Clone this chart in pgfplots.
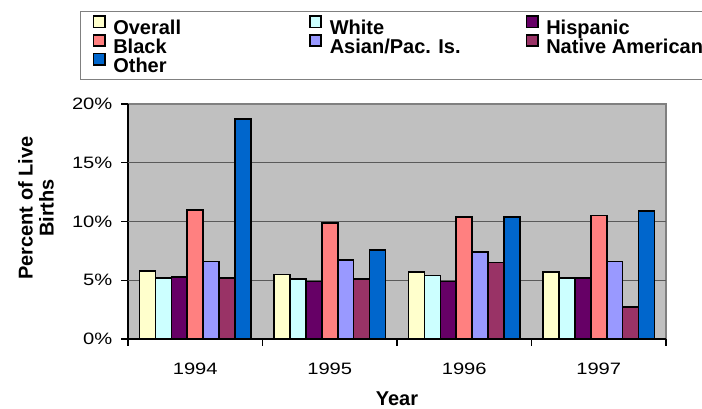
\documentclass[border=0pt]{standalone}
\usepackage{pgfplots}
\usepackage{pgfplotstable}
\pgfplotsset{compat=1.18}
\usepackage{fontspec}
\setmainfont{Liberation Sans}
\newfontfamily\tickfont{Liberation Sans}[FakeStretch=1.22]
\definecolor{cOverall}{HTML}{FFFFCC}
\definecolor{cWhite}{HTML}{CCFFFF}
\definecolor{cHisp}{HTML}{660066}
\definecolor{cBlack}{HTML}{FF8080}
\definecolor{cAsian}{HTML}{9999FF}
\definecolor{cNat}{HTML}{993366}
\definecolor{cOther}{HTML}{0066CC}
\definecolor{plotbg}{HTML}{C0C0C0}
\definecolor{gridc}{HTML}{5A5A5A}
\definecolor{borderc}{HTML}{808080}
\pgfplotstableread{
x Overall White Hispanic Black Asian Native Other
0 5.8 5.2 5.3 11.0 6.6 5.2 18.7
1 5.5 5.1 4.9 9.9 6.7 5.1 7.6
2 5.7 5.4 4.9 10.4 7.4 6.5 10.4
3 5.7 5.2 5.2 10.5 6.6 2.7 10.9
}\data
\pgfplotsset{
  fb/.style 2 args={fill=#1, draw=none, bar shift=#2},
  ob/.style={fill=none, draw=black, line width=1.7pt, bar shift=#1, forget plot},
}
\begin{document}
\begin{tikzpicture}
\begin{axis}[
  scale only axis, width=538pt, height=235pt,
  ybar=0pt, bar width=0.1183,
  legend image code/.code={\fill[#1] (0.8pt,0.8pt) rectangle (12.2pt,12.2pt);
    \draw[black, line width=1.6pt, fill=none] (0.8pt,0.8pt) rectangle (12.2pt,12.2pt);},
  xmin=-0.5, xmax=3.5, ymin=0, ymax=20,
  axis x line*=bottom, axis y line*=left,
  axis line style={line width=1.2pt, black, -},
  axis background/.style={fill=plotbg, draw=borderc, line width=1.6pt},
  xtick={0,1,2,3}, xticklabels={1994,1995,1996,1997},
  minor xtick={-0.5,0.5,1.5,2.5,3.5},
  xtick style={/pgfplots/major tick length=0pt},
  ytick={0,5,10,15,20}, yticklabels={0\%,5\%,10\%,15\%,20\%},
  extra y ticks={5,10,15}, extra y tick labels={},
  extra y tick style={grid=major, /pgfplots/major tick length=0pt},
  grid style={gridc, line width=1pt},
  tick align=outside,
  major tick length=6.5pt, minor tick length=7pt,
  tick style={black, line width=1.2pt},
  ticklabel style={font=\tickfont\fontsize{16.5}{18}\selectfont},
  yticklabel style={anchor=east, inner sep=0pt, xshift=-9pt},
  xticklabel style={anchor=base, inner sep=0pt, yshift=-28.7pt},
  xlabel={Year},
  xlabel style={at={(axis description cs:0.5,0)}, anchor=base, yshift=-66.7pt, font=\bfseries\fontsize{20}{22}\selectfont, inner sep=0pt},
  ylabel={Percent of Live\\Births},
  ylabel style={at={(axis description cs:-0.171,0.557)}, anchor=center, align=center, font=\bfseries\fontsize{20}{21}\selectfont, inner sep=0pt},
  legend columns=3,
  legend style={at={(axis description cs:0,1)}, anchor=north west, xshift=-48pt, yshift=93.3pt,
    draw=borderc, line width=1.2pt, fill=white, inner xsep=12pt, inner ysep=4pt,
    font=\bfseries\fontsize{20}{22}\selectfont, column sep=0pt, row sep=-4.3pt,
    /tikz/every odd column/.style={column sep=5.7pt}},
]
\addplot[fb={cOverall}{-0.3549}] table[x=x, y=Overall] {\data};
\addlegendentry{\makebox[193.8pt][l]{Overall}}
\addplot[fb={cWhite}{-0.2366}] table[x=x, y=White] {\data};
\addlegendentry{\makebox[193.8pt][l]{White}}
\addplot[fb={cHisp}{-0.1183}] table[x=x, y=Hispanic] {\data};
\addlegendentry{\makebox[193.8pt][l]{Hispanic}}
\addplot[fb={cBlack}{0}] table[x=x, y=Black] {\data};
\addlegendentry{\makebox[193.8pt][l]{Black}}
\addplot[fb={cAsian}{0.1183}] table[x=x, y=Asian] {\data};
\addlegendentry{\makebox[193.8pt][l]{Asian/Pac. Is.}}
\addplot[fb={cNat}{0.2366}] table[x=x, y=Native] {\data};
\addlegendentry{\makebox[193.8pt][l]{Native American}}
\addplot[fb={cOther}{0.3549}] table[x=x, y=Other] {\data};
\addlegendentry{\makebox[193.8pt][l]{Other}}
\addplot[ob=-0.3549] table[x=x, y=Overall] {\data};
\addplot[ob=-0.2366] table[x=x, y=White] {\data};
\addplot[ob=-0.1183] table[x=x, y=Hispanic] {\data};
\addplot[ob=0] table[x=x, y=Black] {\data};
\addplot[ob=0.1183] table[x=x, y=Asian] {\data};
\addplot[ob=0.2366] table[x=x, y=Native] {\data};
\addplot[ob=0.3549] table[x=x, y=Other] {\data};
\end{axis}
\pgfresetboundingbox
\path[use as bounding box] (-128pt,-70pt) rectangle (574pt,339pt);
\end{tikzpicture}
\end{document}
